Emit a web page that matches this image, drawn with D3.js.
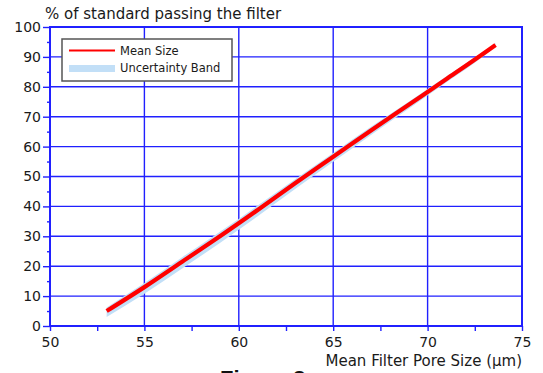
<!DOCTYPE html>
<html><head><meta charset="utf-8">
<script src="https://cdn.jsdelivr.net/npm/d3@7"></script>
<style>body{margin:0;background:#fff}svg{display:block}</style>
</head><body>
<svg id="c" width="543" height="373"></svg>
<script>
// Data
const poreSize   = [53.0, 55, 57, 59, 61, 63, 65, 67, 69, 71, 73, 73.6];
const meanPass   = [5.0, 13.0, 21.5, 30.0, 38.8, 47.8, 56.6, 65.4, 74.0, 82.6, 91.3, 94.0];
const bandUpper  = [6.2, 14.4, 23.0, 31.5, 40.3, 49.2, 57.9, 66.6, 75.0, 83.5, 92.0, 94.6];
const bandLower  = [3.0, 10.8, 19.2, 27.8, 36.7, 45.9, 54.9, 63.9, 72.7, 81.5, 90.4, 93.4];
const xTicks = [50, 55, 60, 65, 70, 75];
const xMinor = [52.5, 57.5, 62.5, 67.5, 72.5];
const yTicks = [0, 10, 20, 30, 40, 50, 60, 70, 80, 90, 100];
const yMinor = [5, 15, 25, 35, 45, 55, 65, 75, 85, 95];
const legendLabels = ["Mean Size", "Uncertainty Band"];
const yTitle = "% of standard passing the filter";
const xTitle = "Mean Filter Pore Size (\u03bcm)";
const caption = "Figure 3";

const svg = d3.select("#c");
const font = "DejaVu Sans, Verdana, sans-serif";
const blue = "#2020ff";
const x = d3.scaleLinear().domain([50, 75]).range([50, 522]);
const y = d3.scaleLinear().domain([0, 100]).range([326, 27]);

// gridlines
svg.append("g").selectAll("line").data(xTicks.slice(1, -1)).join("line")
  .attr("x1", d => x(d)).attr("x2", d => x(d)).attr("y1", y(0)).attr("y2", y(100))
  .attr("stroke", blue).attr("stroke-width", 1.4);
svg.append("g").selectAll("line").data(yTicks.slice(1, -1)).join("line")
  .attr("x1", x(50)).attr("x2", x(75)).attr("y1", d => y(d)).attr("y2", d => y(d))
  .attr("stroke", blue).attr("stroke-width", 1.4);

// band
const pts = poreSize.map((p, i) => ({p, m: meanPass[i], lo: bandLower[i], hi: bandUpper[i]}));
svg.append("path").datum(pts)
  .attr("d", d3.area().curve(d3.curveMonotoneX).x(d => x(d.p)).y0(d => y(d.lo)).y1(d => y(d.hi)))
  .attr("fill", "#c2dff7");
// mean line
svg.append("path").datum(pts)
  .attr("d", d3.line().curve(d3.curveMonotoneX).x(d => x(d.p)).y(d => y(d.m)))
  .attr("fill", "none").attr("stroke", "#ff0000").attr("stroke-width", 4.2)
  .attr("stroke-linecap", "butt");

// frame
svg.append("rect").attr("x", x(50)).attr("y", y(100))
  .attr("width", x(75) - x(50)).attr("height", y(0) - y(100))
  .attr("fill", "none").attr("stroke", blue).attr("stroke-width", 2);

// axes
svg.append("g").attr("transform", `translate(0,${y(0)})`)
  .call(d3.axisBottom(x).tickValues(xTicks).tickSize(5).tickPadding(6).tickFormat(d3.format("d")));
svg.append("g").attr("transform", `translate(0,${y(0)})`)
  .call(d3.axisBottom(x).tickValues(xMinor).tickSize(5).tickFormat(""));
svg.append("g").attr("transform", `translate(${x(50)},0)`)
  .call(d3.axisLeft(y).tickValues(yTicks).tickSize(7).tickPadding(2).tickFormat(d3.format("d")));
svg.append("g").attr("transform", `translate(${x(50)},0)`)
  .call(d3.axisLeft(y).tickValues(yMinor).tickSize(3).tickFormat(""));
svg.selectAll(".domain").remove();
svg.selectAll(".tick line").attr("stroke", blue).attr("stroke-width", 1.4);
svg.selectAll(".tick text").attr("font-family", font).attr("font-size", 14).attr("fill", "#1a1a1a");

// titles
svg.append("text").attr("x", 45).attr("y", 19).text(yTitle)
  .attr("font-family", font).attr("font-size", 15).attr("fill", "#1a1a1a");
svg.append("text").attr("x", 522).attr("y", 366).attr("text-anchor", "end").text(xTitle)
  .attr("font-family", font).attr("font-size", 15).attr("fill", "#1a1a1a");
svg.append("text").attr("x", 220).attr("y", 386).text(caption)
  .attr("font-family", "Liberation Sans, Arial, sans-serif").attr("font-weight", "bold")
  .attr("font-size", 22).attr("fill", "#111");

// legend
const lg = svg.append("g");
lg.append("rect").attr("x", 62).attr("y", 39).attr("width", 170).attr("height", 42)
  .attr("fill", "#fff").attr("stroke", "#555").attr("stroke-width", 1.5);
lg.append("line").attr("x1", 69).attr("x2", 115).attr("y1", 50.5).attr("y2", 50.5)
  .attr("stroke", "#ff0000").attr("stroke-width", 2.2);
lg.append("rect").attr("x", 69).attr("y", 65).attr("width", 46).attr("height", 7)
  .attr("fill", "#c2dff7");
lg.selectAll("text").data(legendLabels).join("text")
  .attr("x", 120).attr("y", (d, i) => 55 + i * 17).text(d => d)
  .attr("font-family", font).attr("font-size", 11.5).attr("fill", "#1a1a1a");
</script>
</body></html>
